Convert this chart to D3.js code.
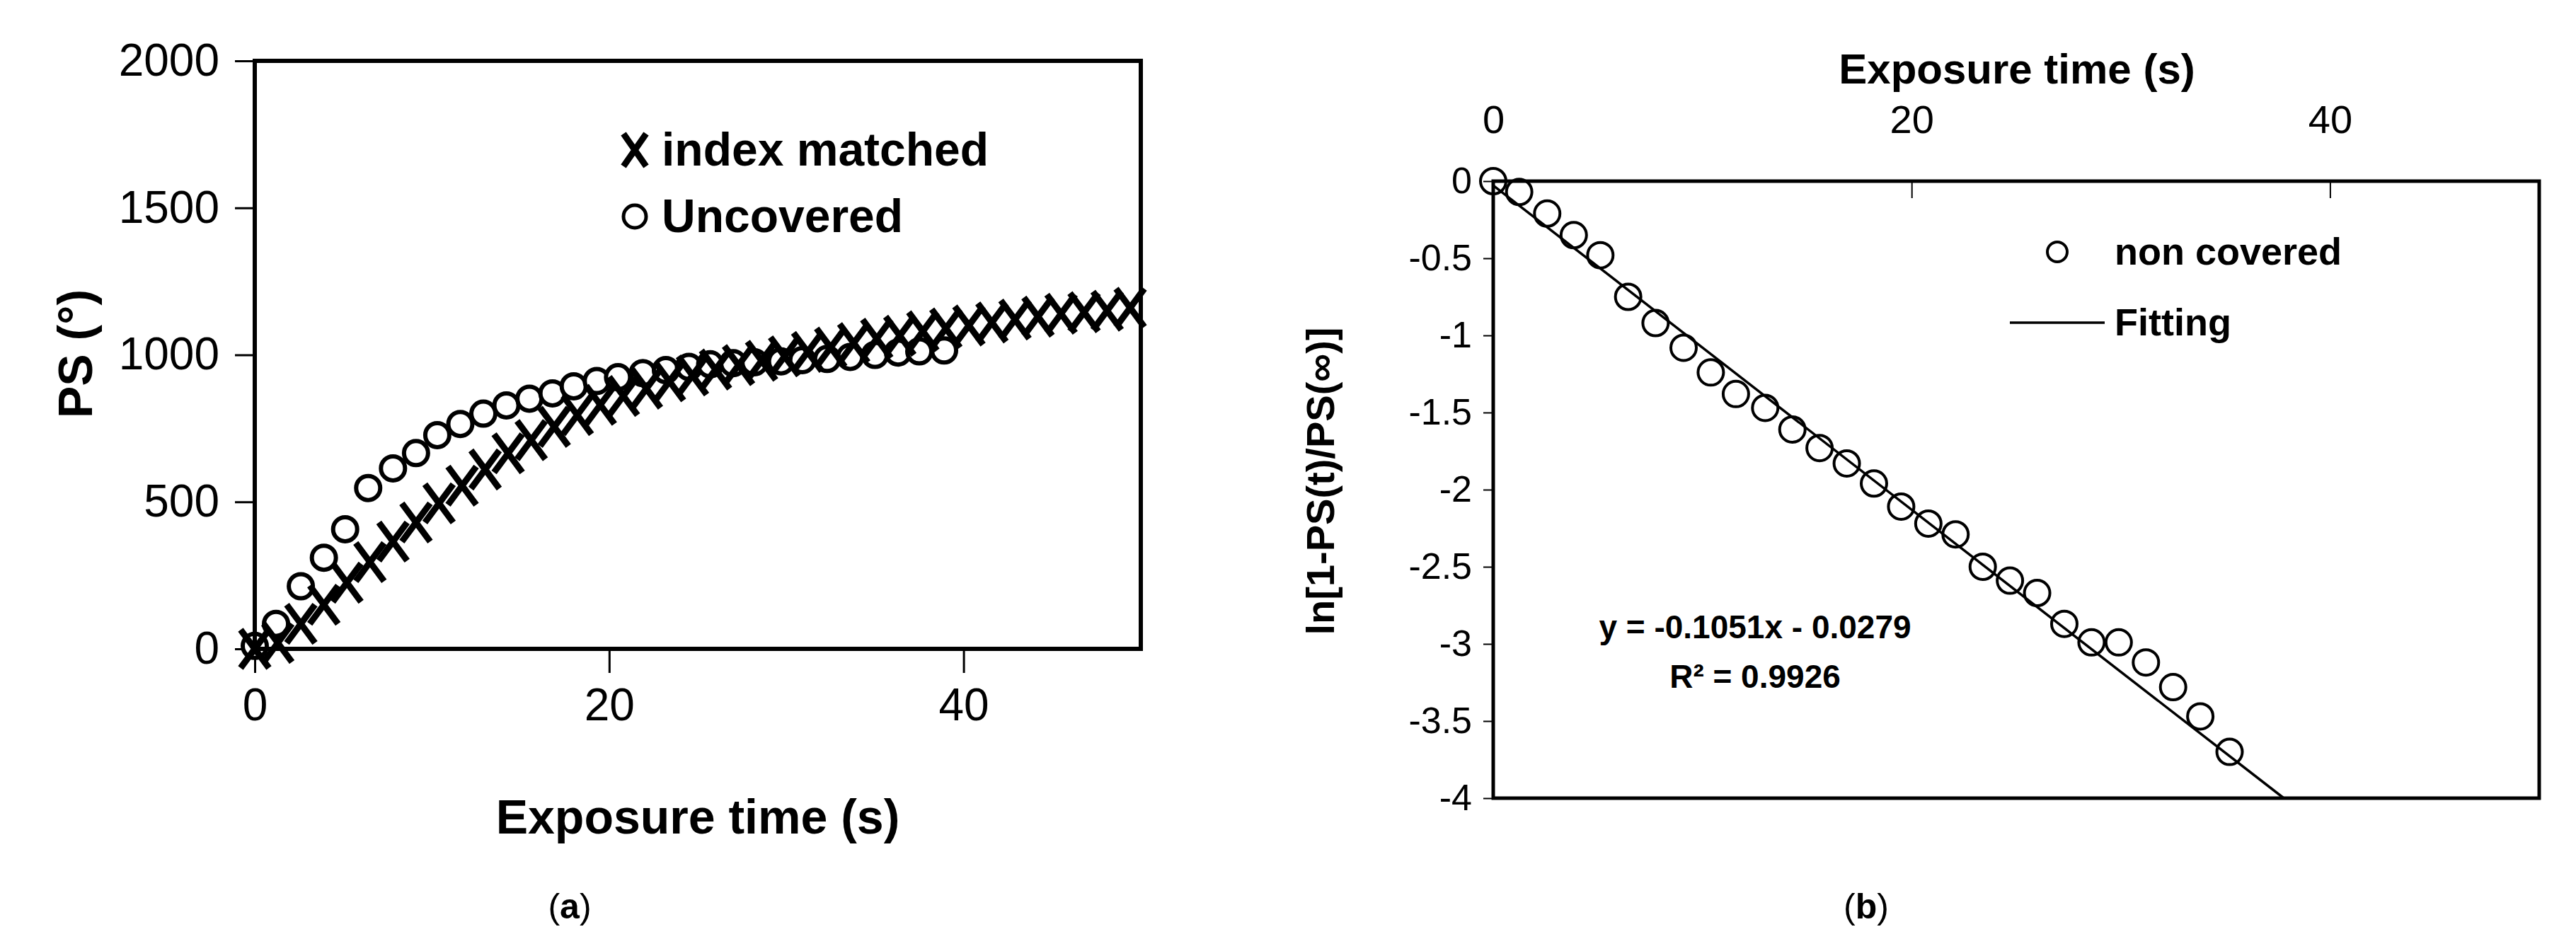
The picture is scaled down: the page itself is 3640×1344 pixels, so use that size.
<!DOCTYPE html>
<html>
<head>
<meta charset="UTF-8">
<script src="https://cdn.jsdelivr.net/npm/d3@7"></script>
<style>
  body { margin: 0; background: #fff; }
  text { font-family: "Liberation Sans Narrow", "Liberation Sans", Arial, sans-serif; }
</style>
</head>
<body>
<svg id="fig" width="3640" height="1344"></svg>
<script>
// (a) PS vs exposure time
var idxX = [0,1.3,2.6,3.9,5.2,6.5,7.8,9.1,10.4,11.7,13,14.3,15.6,16.9,18.2,19.5,20.8,22.1,23.4,24.7,26,27.3,28.6,29.9,31.2,32.5,33.8,35.1,36.4,37.7,39,40.3,41.6,42.9,44.2,45.5,46.8,48.1,49.4];
var idxY = [0,20,85,150,225,295,365,430,495,555,610,665,710,755,795,830,860,885,910,930,950,965,980,995,1010,1025,1040,1055,1065,1080,1090,1100,1110,1120,1130,1140,1145,1150,1160];
var uncX = [0,1.2,2.6,3.9,5.1,6.4,7.8,9.1,10.3,11.6,12.9,14.2,15.5,16.8,18,19.3,20.5,21.9,23.2,24.5,25.7,27,28.2,29.7,30.9,32.3,33.6,35,36.3,37.5,38.9];
var uncY = [10,85,213,310,407,547,614,666,727,765,800,828,851,869,893,911,924,938,948,959,968,972,975,978,982,986,993,1000,1008,1012,1015];
var aXTicks = [0,20,40];
var aYTicks = [0,500,1000,1500,2000];

// (b) ln[1-PS(t)/PS(inf)]
var ncX = [0,1.24,2.58,3.85,5.12,6.45,7.76,9.1,10.4,11.6,13,14.3,15.6,16.9,18.2,19.5,20.8,22.1,23.4,24.7,26,27.3,28.6,29.9,31.2,32.5,33.8,35.2];
var ncY = [0,-0.07,-0.21,-0.35,-0.48,-0.75,-0.92,-1.08,-1.24,-1.38,-1.47,-1.61,-1.73,-1.83,-1.96,-2.11,-2.22,-2.29,-2.5,-2.59,-2.67,-2.87,-2.99,-2.99,-3.12,-3.28,-3.47,-3.7];
var fitSlope = -0.1051, fitIntercept = -0.0279;
var bXTicks = [0,20,40];
var bYTicks = [0,-0.5,-1,-1.5,-2,-2.5,-3,-3.5,-4];

var svg = d3.select("#fig");

// ---------- panel a ----------
var xa = d3.scaleLinear().domain([0,50]).range([360,1612]);
var ya = d3.scaleLinear().domain([0,2000]).range([917,86]);

var ga = svg.append("g");
ga.append("g").attr("transform","translate(0,917)")
  .call(d3.axisBottom(xa).tickValues(aXTicks).tickSize(34).tickPadding(22).tickFormat(d3.format("d")))
  .call(function (g) {
    g.select(".domain").remove();
    g.selectAll("line").attr("stroke-width",3);
    g.selectAll("text").attr("font-size",64);
  });
ga.append("g").attr("transform","translate(360,0)")
  .call(d3.axisLeft(ya).tickValues(aYTicks).tickSize(28).tickPadding(22).tickFormat(d3.format("d")))
  .call(function (g) {
    g.select(".domain").remove();
    g.selectAll("line").attr("stroke-width",3);
    g.selectAll("text").attr("font-size",64);
  });

ga.selectAll(".unc").data(uncX).enter().append("circle")
  .attr("cx", function (d) { return xa(d); })
  .attr("cy", function (d, i) { return ya(uncY[i]); })
  .attr("r",17).attr("fill","#fff").attr("stroke","#000").attr("stroke-width",6);

function cross(g, cx, cy, w, h, sw) {
  g.append("path")
    .attr("d","M"+(cx-w/2)+","+(cy-h/2)+"L"+(cx+w/2)+","+(cy+h/2)+"M"+(cx+w/2)+","+(cy-h/2)+"L"+(cx-w/2)+","+(cy+h/2))
    .attr("stroke","#000").attr("stroke-width",sw).attr("fill","none");
}
idxX.forEach(function (d, i) { cross(ga, xa(d), ya(idxY[i]), 40, 54, 9); });

ga.append("rect").attr("x",360).attr("y",86).attr("width",1252).attr("height",831)
  .attr("fill","none").attr("stroke","#000").attr("stroke-width",6);

// legend a
cross(ga, 897, 212, 32, 46, 9);
ga.append("text").attr("x",935).attr("y",234).attr("font-size",66).attr("font-weight","bold").text("index matched");
ga.append("circle").attr("cx",897).attr("cy",306).attr("r",16).attr("fill","#fff").attr("stroke","#000").attr("stroke-width",5);
ga.append("text").attr("x",935).attr("y",328).attr("font-size",66).attr("font-weight","bold").text("Uncovered");

ga.append("text").attr("x",986).attr("y",1178).attr("text-anchor","middle").attr("font-size",68).attr("font-weight","bold").text("Exposure time (s)");
ga.append("text").attr("transform","translate(130,500) rotate(-90)").attr("text-anchor","middle").attr("font-size",68).attr("font-weight","bold").text("PS (°)");
ga.append("text").attr("x",805).attr("y",1298).attr("text-anchor","middle").attr("font-size",50).attr("font-family","Liberation Serif, serif").html("(<tspan font-weight='bold'>a</tspan>)");

// ---------- panel b ----------
var xb = d3.scaleLinear().domain([0,50]).range([2110,3588]);
var yb = d3.scaleLinear().domain([-4,0]).range([1128,256]);

var gb = svg.append("g");
gb.append("g").attr("transform","translate(0,256)")
  .call(d3.axisTop(xb).tickValues(bXTicks).tickSize(-24).tickPadding(68).tickFormat(d3.format("d")))
  .call(function (g) {
    g.select(".domain").remove();
    g.selectAll("line").attr("stroke-width",2);
    g.selectAll("text").attr("font-size",56);
  });
gb.append("g").attr("transform","translate(2110,0)")
  .call(d3.axisLeft(yb).tickValues(bYTicks).tickSize(14).tickPadding(16).tickFormat(function (d) { return d3.format("")(d).replace("−","-"); }))
  .call(function (g) {
    g.select(".domain").remove();
    g.selectAll("line").attr("stroke-width",2);
    g.selectAll("text").attr("font-size",52);
  });

var xEnd = (-4 - fitIntercept) / fitSlope;
gb.append("line")
  .attr("x1",xb(0)).attr("y1",yb(Math.min(0,fitIntercept)))
  .attr("x2",xb(xEnd)).attr("y2",yb(-4))
  .attr("stroke","#000").attr("stroke-width",3.5);

gb.selectAll(".nc").data(ncX).enter().append("circle")
  .attr("cx", function (d) { return xb(d); })
  .attr("cy", function (d, i) { return yb(ncY[i]); })
  .attr("r",18).attr("fill","none").attr("stroke","#000").attr("stroke-width",4);

gb.append("rect").attr("x",2110).attr("y",256).attr("width",1478).attr("height",872)
  .attr("fill","none").attr("stroke","#000").attr("stroke-width",5);

gb.append("circle").attr("cx",2907).attr("cy",356).attr("r",14).attr("fill","none").attr("stroke","#000").attr("stroke-width",4);
gb.append("text").attr("x",2988).attr("y",374).attr("font-size",54).attr("font-weight","bold").text("non covered");
gb.append("line").attr("x1",2840).attr("x2",2974).attr("y1",456).attr("y2",456).attr("stroke","#000").attr("stroke-width",3.5);
gb.append("text").attr("x",2988).attr("y",474).attr("font-size",54).attr("font-weight","bold").text("Fitting");

gb.append("text").attr("x",2480).attr("y",902).attr("text-anchor","middle").attr("font-size",46).attr("font-weight","bold").text("y = -0.1051x - 0.0279");
gb.append("text").attr("x",2480).attr("y",972).attr("text-anchor","middle").attr("font-size",46).attr("font-weight","bold").text("R² = 0.9926");

gb.append("text").attr("x",2850).attr("y",118).attr("text-anchor","middle").attr("font-size",60).attr("font-weight","bold").text("Exposure time (s)");
gb.append("text").attr("transform","translate(1885,680) rotate(-90)").attr("text-anchor","middle").attr("font-size",56).attr("font-weight","bold").text("ln[1-PS(t)/PS(∞)]");
gb.append("text").attr("x",2637).attr("y",1298).attr("text-anchor","middle").attr("font-size",50).attr("font-family","Liberation Serif, serif").html("(<tspan font-weight='bold'>b</tspan>)");
</script>
</body>
</html>
